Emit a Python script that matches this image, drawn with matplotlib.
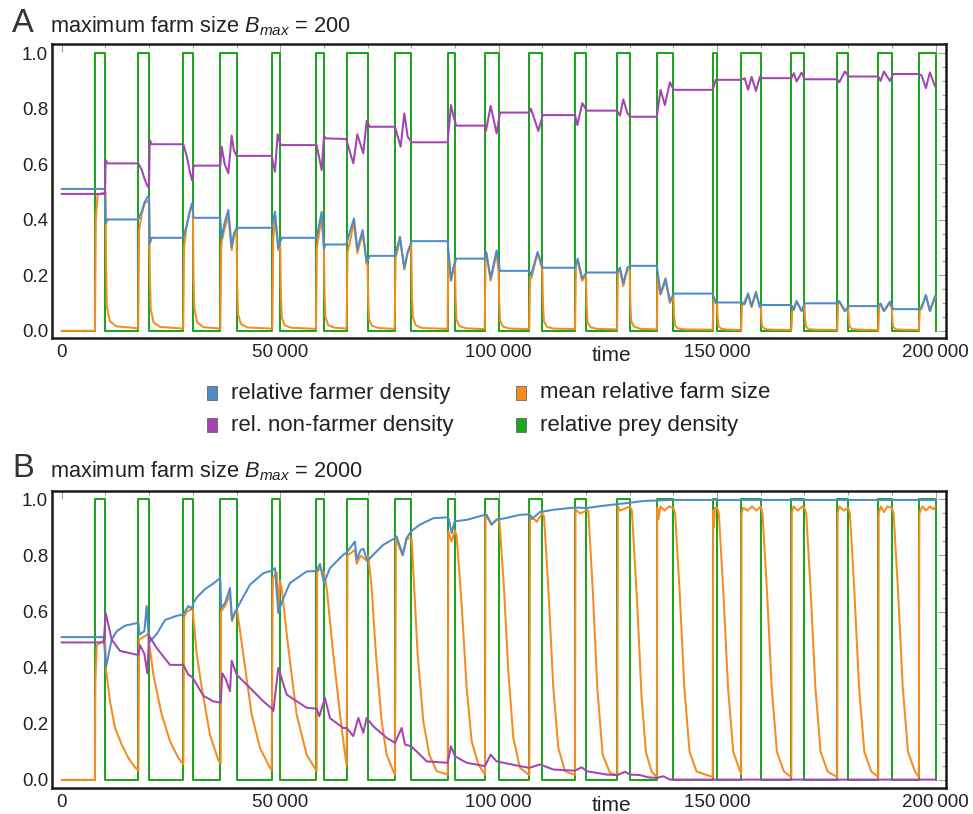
import numpy as np
import matplotlib
matplotlib.use('Agg')
import matplotlib.pyplot as plt
from matplotlib.patches import Rectangle

plt.rcParams['font.family'] = ['Liberation Sans', 'DejaVu Sans']
plt.rcParams['mathtext.fontset'] = 'custom'
plt.rcParams['mathtext.it'] = 'Liberation Sans:italic'
plt.rcParams['mathtext.rm'] = 'Liberation Sans'

# prey switches on at these times and off again at the next multiple of 10 000
prey_on = [7600, 17500, 27800, 36300, 48200, 58200, 65200, 76200, 88300, 96800,
           107000, 117500, 127100, 136200, 149000, 155500, 167000, 177500, 186900, 196200]
prey_off = [10000, 20000, 30000, 40000, 50000, 60000, 70000, 80000, 90000, 100000,
            110000, 120000, 130000, 140000, 150000, 160000, 170000, 180000, 190000, 200000]

# panel A, B_max = 200  (time, value)
farmer_a = [
    (0, .511), (9900, .511), (10060, .387), (10500, .401),
    (17536, .401), (18300, .43), (19000, .465), (19700, .483), (19978, .48), (20150, .315), (20600, .335),
    (27835, .335), (28600, .38), (29300, .43), (29800, .459), (29950, .455), (30124, .41), (30400, .407),
    (36300, .407), (36606, .333), (37300, .39), (38131, .435), (38894, .303), (39400, .35), (40038, .371),
    (48047, .371), (48810, .429), (49573, .297), (50000, .32), (50400, .335),
    (58344, .335), (59489, .429), (60023, .297), (60400, .311),
    (65100, .311), (66889, .405), (67652, .294), (68872, .363), (69788, .249), (70550, .27),
    (76273, .27), (77418, .339), (78410, .227), (79173, .284), (80089, .323),
    (88330, .323), (89093, .183), (89700, .23), (90300, .26),
    (96800, .26), (97102, .285), (98170, .189), (99544, .29), (100307, .216),
    (107000, .216), (107400, .2), (108930, .284), (110100, .227),
    (117500, .227), (118100, .26), (119100, .189), (120147, .21),
    (127100, .21), (127774, .228), (128537, .171), (129453, .227), (130100, .234),
    (136200, .234), (137066, .134), (138210, .189), (139202, .107), (140100, .134),
    (149000, .134), (149700, .102),
    (155600, .102), (156300, .095), (157100, .135), (157900, .088), (158900, .14), (159800, .085), (160300, .093),
    (167000, .093), (167586, .075), (168196, .107), (169341, .072), (170104, .099),
    (177500, .099), (177962, .107), (179259, .071), (180175, .089),
    (186900, .089), (187424, .098), (188187, .072), (189560, .105), (190323, .078),
    (196200, .078), (196800, .08), (197799, .129), (198715, .072), (199900, .126), (200000, .126),
]
nonfarmer_a = [
    (0, .493), (9900, .493), (10060, .615), (10500, .603),
    (17536, .603), (18300, .58), (19000, .545), (19700, .519), (19978, .52), (20150, .687), (20600, .672),
    (27835, .672), (28600, .63), (29300, .575), (29800, .543), (29950, .545), (30124, .59), (30400, .595),
    (36300, .595), (36606, .663), (37300, .60), (38131, .567), (38894, .703), (39400, .65), (40038, .63),
    (48047, .63), (48810, .573), (49420, .708), (49954, .675), (50400, .669),
    (58344, .669), (59489, .579), (60023, .703), (60400, .693),
    (65100, .691), (66736, .603), (67652, .708), (69025, .639), (69788, .756), (70550, .735),
    (76273, .735), (77571, .663), (78410, .783), (79173, .70), (80089, .679),
    (88330, .679), (89093, .813), (89700, .77), (90300, .739),
    (96800, .739), (97102, .72), (98170, .81), (99544, .711), (100307, .786),
    (107000, .786), (107400, .80), (109083, .72), (110100, .777),
    (117500, .777), (118010, .741), (119155, .82), (120147, .793),
    (127100, .793), (127774, .775), (128537, .834), (129453, .785), (130100, .771),
    (136200, .771), (137066, .868), (138058, .813), (139202, .895), (140100, .868),
    (149000, .868), (149700, .904),
    (155600, .904), (156300, .91), (157100, .868), (157900, .915), (158900, .864), (159800, .915), (160300, .91),
    (167000, .91), (167586, .928), (168196, .898), (169341, .93), (170104, .906),
    (177500, .906), (177962, .895), (179259, .934), (180175, .916),
    (186900, .916), (187424, .90), (188187, .934), (189560, .90), (190323, .925),
    (196200, .925), (196800, .92), (197799, .874), (198715, .931), (199900, .88), (200000, .88),
]
farmsize_a = [
    (0, 0), (7600, 0), (7800, .40), (8200, .49), (10000, .50), (10150, .25), (10300, .09), (11000, .035), (12500, .016), (17500, .009),
    (17700, .36), (18300, .42), (19000, .46), (20000, .47), (20150, .22), (20350, .08), (21000, .03), (22500, .014), (27800, .008),
    (28000, .30), (28600, .38), (29300, .43), (30000, .45), (30150, .2), (30350, .08), (31000, .03), (32500, .013), (36300, .008),
    (36500, .30), (36606, .32), (37300, .37), (38131, .41), (38894, .29), (39400, .34), (40000, .36),
    (40150, .17), (40350, .06), (41000, .025), (42500, .012), (48200, .008),
    (48400, .33), (48810, .41), (49573, .29), (50000, .31), (50150, .15), (50350, .05), (51000, .02), (52500, .011), (58200, .007),
    (58400, .30), (59489, .41), (60000, .30), (60150, .14), (60350, .05), (61000, .02), (62500, .011), (65200, .008),
    (65400, .28), (66889, .39), (67652, .28), (68872, .35), (69788, .24), (70000, .24),
    (70150, .11), (70350, .04), (71000, .018), (72500, .01), (76200, .007),
    (76400, .26), (77418, .33), (78410, .22), (79173, .28), (80000, .31), (80150, .14), (80350, .05), (81000, .02), (82500, .01), (88300, .007),
    (88500, .28), (89093, .18), (90000, .25), (90150, .12), (90350, .04), (91000, .017), (92500, .009), (96800, .006),
    (97000, .25), (97255, .28), (98170, .18), (99544, .28), (100000, .21),
    (100150, .1), (100350, .035), (101000, .015), (102500, .008), (107000, .006),
    (107200, .19), (107500, .19), (108930, .28), (110000, .22), (110150, .1), (110350, .035), (111000, .015), (112500, .008), (117500, .006),
    (117700, .24), (118100, .25), (119100, .18), (120000, .2), (120150, .09), (120350, .03), (121000, .013), (122500, .007), (127100, .005),
    (127300, .21), (127774, .22), (128537, .16), (129453, .22), (130000, .22),
    (130150, .1), (130350, .035), (131000, .015), (132500, .007), (136200, .005),
    (136400, .2), (137066, .13), (138210, .18), (139202, .1), (140000, .13),
    (140150, .06), (140350, .02), (141000, .009), (142500, .005), (149000, .004),
    (149200, .12), (149700, .1), (150000, .1), (150150, .045), (150350, .016), (151000, .007), (152500, .004), (155500, .003),
    (155700, .09), (157100, .13), (157900, .085), (158900, .135), (159800, .085), (160000, .09),
    (160150, .04), (160350, .015), (161000, .006), (162500, .004), (167000, .003),
    (167200, .07), (168196, .105), (169341, .07), (170000, .095), (170150, .043), (170350, .015), (171000, .006), (172500, .004), (177500, .003),
    (177700, .1), (177962, .105), (179259, .07), (180000, .085), (180150, .04), (180350, .014), (181000, .006), (182500, .004), (186900, .003),
    (187100, .09), (187424, .095), (188187, .07), (189560, .1), (190000, .08),
    (190150, .036), (190350, .013), (191000, .005), (192500, .004), (196200, .003),
    (196400, .075), (197799, .125), (198715, .07), (199900, .12), (200000, .12),
]

# panel B, B_max = 2000
farmer_b = [
    (0, .509), (9600, .509), (10137, .403), (11434, .50), (12579, .53), (14486, .55), (17536, .56),
    (17800, .518), (18900, .53), (19443, .62), (19978, .49), (21732, .52), (23640, .57), (26310, .585), (27835, .59),
    (28979, .62), (29742, .61), (30124, .63), (30886, .65), (32793, .68), (34700, .70), (36300, .72),
    (36500, .613), (37370, .63), (38513, .684), (38971, .571), (40038, .61), (43089, .696), (46140, .737), (48047, .746),
    (48810, .755), (49573, .595), (50716, .648), (52242, .702), (56056, .743), (58344, .745),
    (59108, .77), (60023, .702), (61396, .755), (64447, .803), (65210, .81),
    (67118, .85), (67499, .785), (68415, .82), (69025, .824), (69941, .78), (71314, .803), (73603, .838), (76274, .862),
    (76655, .868), (78028, .803), (78944, .862), (79936, .886), (81996, .91), (85048, .933), (88329, .936),
    (88600, .93), (89245, .88), (89800, .915), (90008, .922), (92678, .927), (96875, .945),
    (97256, .945), (98401, .91), (99545, .927), (101834, .934), (104886, .945), (107022, .947),
    (107557, .93), (109464, .955), (112516, .963), (117476, .971), (120146, .969), (123198, .976),
    (127166, .983), (130065, .988), (132354, .993), (134000, .995), (136200, .996), (140000, .998), (200000, .998),
]
nonfarmer_b = [
    (0, .49), (9600, .49), (10060, .595), (11434, .50), (13342, .46), (17536, .445),
    (17900, .48), (18900, .45), (19596, .38), (19978, .515), (21732, .47), (24784, .41), (27835, .41),
    (28979, .375), (29742, .368), (30124, .36), (30886, .34), (32412, .30), (34700, .28), (36378, .275),
    (36760, .38), (37598, .357), (38513, .316), (38894, .425), (40038, .375), (43089, .328), (46140, .28), (48047, .255),
    (48428, .245), (49573, .399), (51479, .304), (56056, .257), (58344, .254),
    (58955, .227), (60252, .292), (61396, .22), (64447, .185), (65210, .185),
    (66736, .156), (67881, .221), (69025, .168), (69788, .221), (71314, .191), (74366, .15), (76274, .132),
    (77800, .185), (78562, .126), (79936, .12), (81996, .09), (83522, .066), (88329, .061),
    (89093, .12), (90008, .084), (92678, .061), (96875, .049),
    (98172, .09), (99545, .066), (101070, .061), (104886, .049), (107022, .043),
    (109464, .055), (112516, .037), (117476, .033), (119001, .045), (120146, .031),
    (124724, .019), (127166, .017), (128921, .029), (130065, .019), (132354, .017),
    (134243, .009), (136200, .007), (137700, .013), (139200, .001), (200000, .001),
]
farmsize_b = [
    (0, 0), (7600, 0), (7700, .35), (8000, .48), (9900, .5), (10137, .393), (11053, .28), (12198, .185),
    (13723, .126), (15249, .078), (16774, .045), (17536, .033),
    (17700, .50), (19800, .52), (20000, .49), (20968, .375), (22875, .233), (24784, .138), (26692, .078), (27835, .055),
    (28000, .58), (28598, .60), (30000, .61), (30124, .58), (30886, .45), (32030, .33), (33937, .16), (35845, .07), (36378, .06),
    (36450, .60), (37370, .62), (38513, .66), (38971, .565), (39657, .60), (40190, .60), (41563, .447), (43470, .233),
    (45378, .114), (47666, .043), (48047, .035),
    (48300, .72), (49200, .74), (49573, .62), (49954, .71), (50335, .684), (51861, .47), (53768, .233), (56056, .09), (58344, .031),
    (58450, .74), (59108, .755), (59870, .74), (60023, .74), (60633, .684), (62159, .447), (64066, .185), (65210, .05),
    (65400, .80), (67118, .82), (67499, .77), (68415, .80), (69941, .78), (70170, .80), (70933, .684), (71924, .447),
    (73222, .209), (74366, .09), (75892, .031), (76274, .019),
    (76500, .86), (78028, .80), (78944, .86), (80089, .862), (81462, .447), (82759, .209), (84132, .09), (85811, .031), (88329, .019),
    (88500, .886), (89245, .85), (90008, .89), (90389, .87), (91534, .625), (92678, .328), (93823, .138), (95349, .055), (96875, .019),
    (97000, .945), (98401, .91), (99545, .93), (100155, .93), (101223, .684), (102215, .387), (103360, .15), (104886, .043), (107022, .017),
    (107200, .945), (108700, .92), (110000, .95), (110380, .94), (111372, .684), (112516, .328), (113661, .114), (115187, .031), (117476, .017),
    (117600, .963), (118620, .95), (120146, .96), (120528, .96), (121520, .684), (122588, .328), (123808, .09), (125487, .025), (127166, .017),
    (127300, .975), (127800, .96), (130065, .975), (130500, .96), (131750, .62), (132700, .30), (133700, .10), (135000, .03), (136200, .01),
    (136300, .97), (136600, .93), (137000, .975), (138000, .96), (139000, .975), (140000, .97),
    (140400, .95), (141400, .68), (142500, .33), (143700, .10), (145300, .03), (149000, .01),
    (149100, .96), (149300, .90), (149500, .97), (150000, .97), (150400, .95), (151400, .68), (152500, .33), (153700, .10), (155300, .03), (155500, .02),
    (155600, .95), (156000, .97), (157000, .96), (158000, .975), (159000, .96), (160000, .975),
    (160400, .95), (161400, .68), (162500, .33), (163700, .10), (165300, .03), (167000, .01),
    (167100, .95), (167500, .975), (168500, .96), (169500, .975), (170000, .97),
    (170400, .95), (171400, .68), (172500, .33), (173700, .10), (175300, .03), (177500, .01),
    (177600, .95), (178000, .975), (179000, .96), (180000, .97), (180400, .95), (181400, .68), (182500, .33), (183700, .10), (185300, .03), (186900, .01),
    (187000, .95), (187500, .975), (188200, .955), (189000, .975), (190000, .97),
    (190400, .95), (191400, .68), (192500, .33), (193700, .10), (195300, .03), (196200, .01),
    (196300, .95), (197000, .975), (197800, .96), (198700, .975), (199500, .965), (200000, .975),
]

titles = ['200', '2000']
panel_letters = ['A', 'B']
xtick_values = [0, 50000, 100000, 150000, 200000]
xtick_labels = ['0', '50\u2009000', '100\u2009000', '150\u2009000', '200\u2009000']
ytick_values = [0.0, 0.2, 0.4, 0.6, 0.8, 1.0]
ytick_labels = ['0.0', '0.2', '0.4', '0.6', '0.8', '1.0']
legend_names = ['relative farmer density', 'mean relative farm size',
                'rel. non-farmer density', 'relative prey density']

c_farmer = '#4f8bc8'
c_nonfarmer = '#a344b3'
c_size = '#f58c1f'
c_prey = '#1ea51e'
legend_colors = [c_farmer, c_size, c_nonfarmer, c_prey]

W, H = 973, 814


def unzip(points):
    t, v = zip(*points)
    return np.array(t), np.array(v)


def prey_curve(on, off):
    t, v = [0], [0]
    for a, b in zip(on, off):
        t += [a, a, b, b]
        v += [0, 1, 1, 0]
    return np.array(t), np.array(v)


def draw_panel(ax, farmer, nonfarmer, size, ylim):
    lw = 1.45
    ax.plot(*prey_curve(prey_on, prey_off), color=c_prey, lw=lw, zorder=1)
    ax.plot(*unzip(size), color=c_size, lw=lw, zorder=2)
    ax.plot(*unzip(farmer), color=c_farmer, lw=lw, zorder=3)
    ax.plot(*unzip(nonfarmer), color=c_nonfarmer, lw=lw, zorder=4)

    ax.set_xlim(-2300, 202400)
    ax.set_ylim(*ylim)
    ax.set_xticks(xtick_values)
    ax.set_xticklabels(xtick_labels)
    ax.set_xticks(np.arange(0, 200001, 10000), minor=True)
    ax.set_yticks(ytick_values)
    ax.set_yticklabels(ytick_labels)
    ax.set_yticks(np.arange(0, 1.001, 0.05), minor=True)
    ax.tick_params(which='both', direction='in', top=True, right=True, bottom=False, left=False,
                   color='#a0a0a0', width=0.8, labelcolor='#222222', labelsize=13.5)
    ax.tick_params(which='major', length=5.5)
    ax.tick_params(which='minor', length=3)
    ax.tick_params(axis='x', pad=4)
    ax.tick_params(axis='y', pad=2.5)
    for s in ax.spines.values():
        s.set_linewidth(1.8)
        s.set_color('#1a1a1a')
    ax.text(125900, -0.025, 'time', transform=ax.get_xaxis_transform(),
            ha='center', va='top', fontsize=15, color='#222222')


fig = plt.figure(figsize=(W / 100, H / 100), dpi=100)
ax_a = fig.add_axes([51.7 / W, 1 - 338.3 / H, 894.3 / W, 294.0 / H])
ax_b = fig.add_axes([51.7 / W, 1 - 788.3 / H, 894.3 / W, 297.6 / H])

draw_panel(ax_a, farmer_a, nonfarmer_a, farmsize_a, (-0.027, 1.032))
draw_panel(ax_b, farmer_b, nonfarmer_b, farmsize_b, (-0.030, 1.031))

# panel headings
for letter, bmax, base in zip(panel_letters, titles, [32, 477.5]):
    fig.text(12 / W, 1 - base / H, letter, fontsize=23.5, color='#333333', va='baseline')
    fig.text(50 / W, 1 - base / H, 'maximum farm size $\\mathit{B}_{\\mathit{max}}$ = ' + bmax,
             fontsize=15.7, color='#222222', va='baseline')

# legend between the panels
sq_w, sq_h = 10, 14
for i, (name, col) in enumerate(zip(legend_names, legend_colors)):
    x0 = [207, 516][i % 2]
    yc = [393, 425][i // 2]
    fig.add_artist(Rectangle((x0 / W, 1 - (yc + sq_h / 2) / H), sq_w / W, sq_h / H,
                             transform=fig.transFigure, facecolor=col,
                             edgecolor='#555555', linewidth=0.5))
    fig.text((x0 + 24) / W, 1 - yc / H, name, fontsize=16, color='#222222', va='center')

fig.savefig('out.png', dpi=100)
